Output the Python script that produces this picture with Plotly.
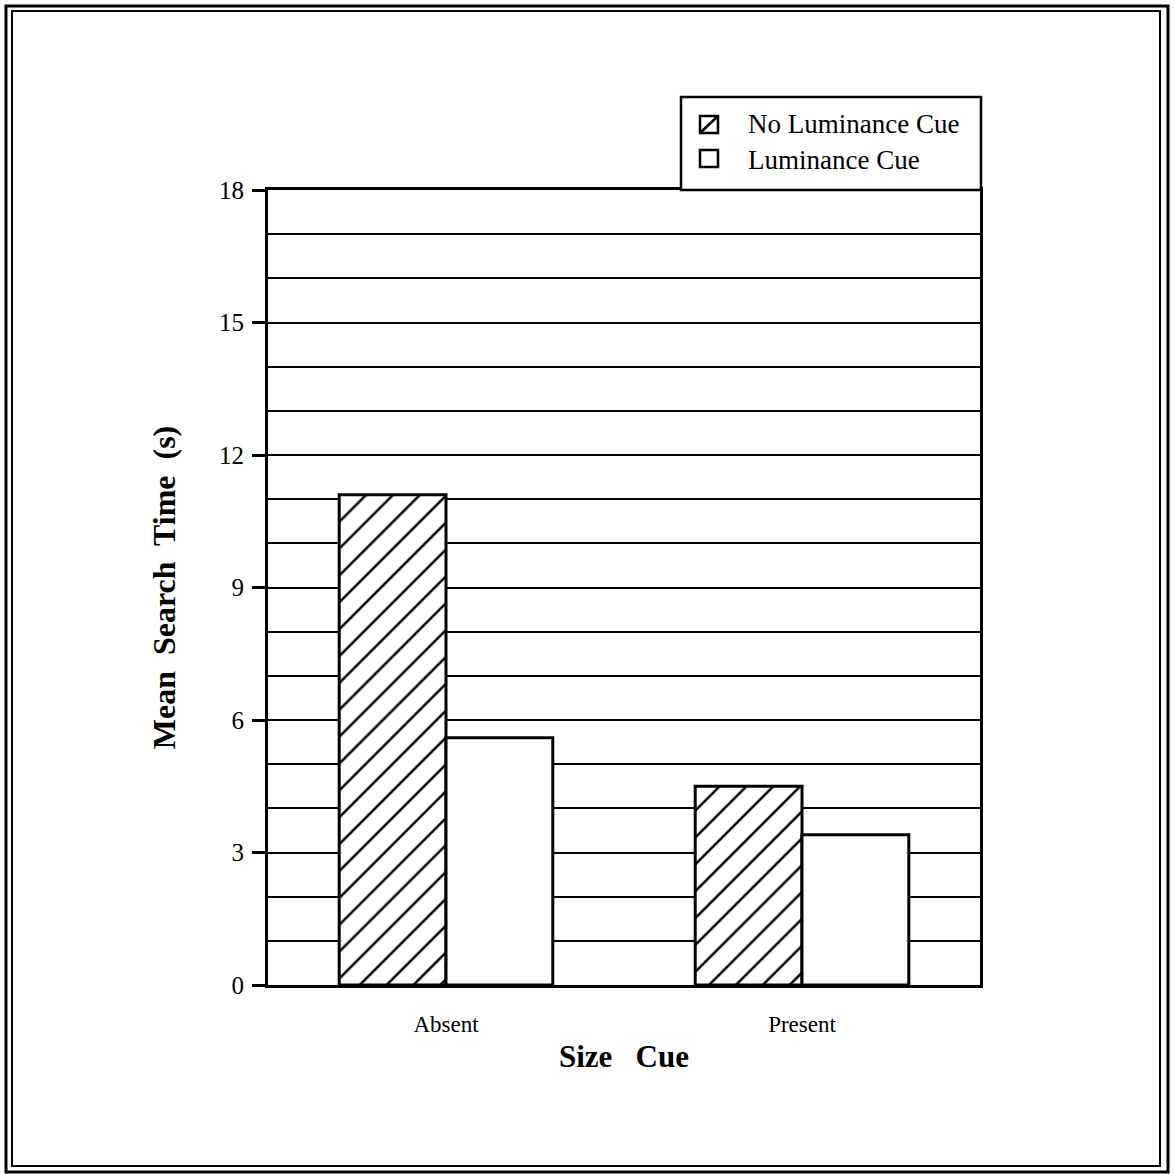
import plotly.graph_objects as go

# Search-time data (seconds) by size cue and luminance cue
size_cue = ["Absent", "Present"]
no_luminance_cue = [11.1, 4.5]
luminance_cue = [5.6, 3.4]
y_ticks = [0, 3, 6, 9, 12, 15, 18]
legend_labels = ["No Luminance Cue", "Luminance Cue"]

FONT = "Liberation Serif, Times New Roman, serif"
W = H = 1174
# plot area in pixels
L, R, T, B = 268, 980, 190, 985


def px(x):
    return (x - L) / (R - L)


def py(y):
    return (B - y) / (B - T)


fig = go.Figure()
fig.add_trace(go.Bar(
    x=size_cue, y=no_luminance_cue, name=legend_labels[0],
    marker=dict(color="white", line=dict(color="black", width=3),
                pattern=dict(shape="/", fgcolor="black", bgcolor="white",
                             fgopacity=1, size=19, solidity=0.13)),
    showlegend=False,
))
fig.add_trace(go.Bar(
    x=size_cue, y=luminance_cue, name=legend_labels[1],
    marker=dict(color="white", line=dict(color="black", width=3)),
    showlegend=False,
))

shapes = []
# double frame around the whole figure
shapes.append(dict(type="rect", xref="paper", yref="paper",
                   x0=px(6), x1=px(1168), y0=py(6), y1=py(1172),
                   line=dict(color="black", width=3)))
shapes.append(dict(type="rect", xref="paper", yref="paper",
                   x0=px(12), x1=px(1160), y0=py(11), y1=py(1166),
                   line=dict(color="black", width=2)))
# legend box
shapes.append(dict(type="rect", xref="paper", yref="paper",
                   x0=px(681), x1=px(981), y0=py(97), y1=py(190),
                   line=dict(color="black", width=2.5), fillcolor="white"))
# legend swatches
for i, (y0, y1) in enumerate([(116, 133), (150, 167)]):
    shapes.append(dict(type="rect", xref="paper", yref="paper",
                       x0=px(700), x1=px(718), y0=py(y0), y1=py(y1),
                       line=dict(color="black", width=2.5)))
    if i == 0:
        shapes.append(dict(type="line", xref="paper", yref="paper",
                           x0=px(700), x1=px(718), y0=py(y1), y1=py(y0),
                           line=dict(color="black", width=2.5)))

annotations = []
for label, yc in zip(legend_labels, [124, 160]):
    annotations.append(dict(text=label, xref="paper", yref="paper",
                            x=px(746), y=py(yc), xanchor="left", yanchor="middle",
                            showarrow=False,
                            font=dict(family=FONT, size=27, color="black")))

fig.update_layout(
    width=W, height=H,
    margin=dict(l=L, r=W - R, t=T, b=H - B, pad=0),
    paper_bgcolor="white", plot_bgcolor="white",
    barmode="group", bargap=0.4, bargroupgap=0,
    font=dict(family=FONT, color="black"),
    shapes=shapes, annotations=annotations,
)
fig.update_xaxes(
    range=[-0.5, 1.5], showgrid=False, ticks="",
    showline=True, linecolor="black", linewidth=3, mirror=True,
    tickfont=dict(family=FONT, size=23), ticklabelstandoff=16,
    title=dict(text="<b>Size   Cue</b>", font=dict(family=FONT, size=31), standoff=10),
    automargin=False,
)
fig.update_yaxes(
    range=[0, 18], tickvals=y_ticks, ticks="outside", ticklen=13, tickwidth=3,
    tickcolor="black", showgrid=True, gridcolor="black", gridwidth=2,
    minor=dict(dtick=1, showgrid=True, gridcolor="black", gridwidth=2, ticks=""),
    zeroline=False,
    showline=True, linecolor="black", linewidth=3, mirror=True,
    tickfont=dict(family=FONT, size=25), ticklabelstandoff=3,
    title=dict(text="<b>Mean  Search  Time  (s)</b>", font=dict(family=FONT, size=32),
               standoff=34),
    automargin=False,
)

fig.write_html("out.html")
